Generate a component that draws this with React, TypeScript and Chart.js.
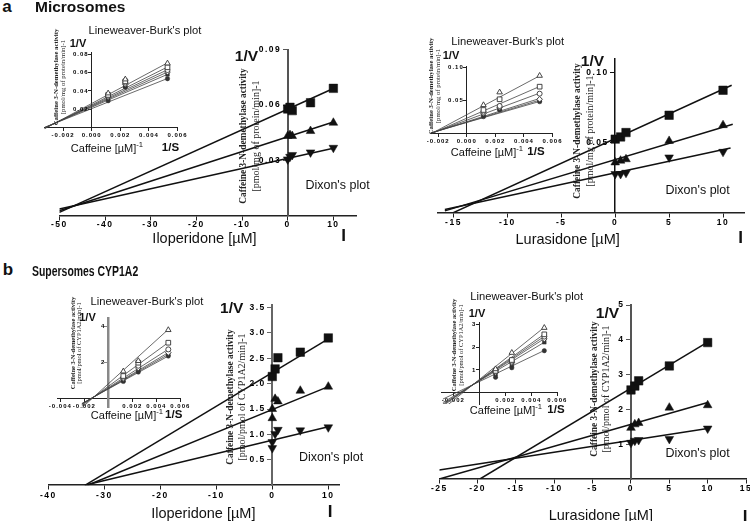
import React, { useEffect, useRef } from 'react';
import { Chart, registerables } from 'chart.js';
Chart.register(...registerables);

// ================= DATA =================
// ---- Panel a (Microsomes) – Iloperidone, Dixon plot ----
const aIloConc = [0, 0.5, 1, 5, 10];
const aIloSquare = [0.0579, 0.0588, 0.057, 0.0613, 0.0691];
const aIloTriangle = [0.0432, 0.0437, 0.0432, 0.0459, 0.0504];
const aIloInverted = [0.0305, 0.0319, 0.0329, 0.0343, 0.0368];
const aIloFitX = [-50, 10];
const aIloFitSquare = [0.0017, 0.069];
const aIloFitTriangle = [0.0026, 0.0508];
const aIloFitInverted = [0.0035, 0.0366];
const aIloXTicks = [-50, -40, -30, -20, -10, 0, 10];
const aIloYTicks = [0.03, 0.06, 0.09];
// inset: Lineweaver-Burk
const aIloLbX = [0.00115, 0.00235, 0.0053];
const aIloLbY = [
  [0.0374, 0.0526, 0.07],
  [0.0356, 0.0504, 0.0657],
  [0.0346, 0.049, 0.0627],
  [0.0331, 0.0472, 0.0605],
  [0.0317, 0.0457, 0.058],
  [0.0293, 0.044, 0.0533],
];
const aIloLbFitX = [-0.0033, 0.0053];
const aIloLbFitY = [
  [-0.0012, 0.0705],
  [-0.0008, 0.066],
  [-0.0005, 0.063],
  [-0.0002, 0.0605],
  [0.0, 0.058],
  [0.0003, 0.0535],
];
const aLbXTicks = [-0.002, 0, 0.002, 0.004, 0.006];
const aIloLbYTicks = [0.02, 0.04, 0.06, 0.08];

// ---- Panel a (Microsomes) – Lurasidone, Dixon plot ----
const aLurConc = [0, 0.5, 1, 5, 10];
const aLurSquare = [0.0524, 0.054, 0.0571, 0.0695, 0.0874];
const aLurTriangle = [0.0357, 0.037, 0.038, 0.0511, 0.0624];
const aLurInverted = [0.0274, 0.0274, 0.0283, 0.0393, 0.0433];
const aLurFitSquareX = [-15.5, 10.8];
const aLurFitSquare = [-0.002, 0.091];
const aLurFitTriangleX = [-15.8, 10.9];
const aLurFitTriangle = [0.001, 0.063];
const aLurFitInvertedX = [-15.8, 10.7];
const aLurFitInverted = [0.002, 0.046];
const aLurXTicks = [-15, -10, -5, 0, 5, 10];
const aLurYTicks = [0.05, 0.1];
// inset
const aLurLbX = [0.00117, 0.0023, 0.0051];
const aLurLbY = [
  [0.0432, 0.0623, 0.0872],
  [0.0357, 0.0518, 0.0707],
  [0.0332, 0.0417, 0.0602],
  [0.0307, 0.0397, 0.0518],
  [0.0282, 0.0368, 0.0503],
  [0.0257, 0.036, 0.0482],
];
const aLurLbFitX = [-0.0025, 0.0051];
const aLurLbFitY = [
  [0.0, 0.087],
  [0.0, 0.071],
  [0.0005, 0.061],
  [0.001, 0.053],
  [0.001, 0.0505],
  [0.0015, 0.0485],
];
const aLurLbYTicks = [0.05, 0.1];

// ---- Panel b (Supersomes CYP1A2) – Iloperidone ----
const bIloSquareX = [0, 0.5, 1, 5, 10];
const bIloSquare = [2.14, 2.29, 2.51, 2.62, 2.9];
const bIloTriangleX = [0, 0, 0.5, 1, 5, 10];
const bIloTriangle = [1.32, 1.5, 1.7, 1.65, 1.86, 1.94];
const bIloInvertedX = [0, 0, 0.5, 1, 5, 10];
const bIloInverted = [0.73, 0.85, 1.01, 1.09, 1.08, 1.14];
const bIloFitSquareX = [-33.4, 10];
const bIloFitSquare = [0, 2.88];
const bIloFitTriangleX = [-33, 10];
const bIloFitTriangle = [0, 1.94];
const bIloFitInvertedX = [-33.5, 10];
const bIloFitInverted = [0, 1.15];
const bIloXTicks = [-40, -30, -20, -10, 0, 10];
const bIloYTicks = [0.5, 1, 1.5, 2, 2.5, 3, 3.5];
// inset
const bLbX = [0.00125, 0.0025, 0.005];
const bIloLbY = [
  [1.52, 2.1, 3.82],
  [1.26, 2.0, 3.11],
  [1.17, 1.83, 2.74],
  [1.11, 1.71, 2.56],
  [1.02, 1.59, 2.47],
  [0.96, 1.48, 2.37],
];
const bIloLbFitX = [-0.0022, 0.005];
const bIloLbFitY = [
  [-0.505, 3.85],
  [-0.387, 3.12],
  [-0.327, 2.75],
  [-0.297, 2.56],
  [-0.281, 2.46],
  [-0.266, 2.37],
];
const bIloLbXTicks = [-0.004, -0.002, 0.002, 0.004, 0.006];
const bIloLbYTicks = [2, 4];

// ---- Panel b (Supersomes CYP1A2) – Lurasidone ----
const bLurConc = [0, 0.5, 1, 5, 10];
const bLurSquare = [2.56, 2.67, 2.82, 3.25, 3.92];
const bLurTriangle = [1.47, 1.57, 1.61, 2.05, 2.12];
const bLurInverted = [1.04, 1.1, 1.12, 1.15, 1.45];
const bLurFitSquareX = [-19.7, 10.1];
const bLurFitSquare = [0, 3.95];
const bLurFitTriangleX = [-25, 10];
const bLurFitTriangle = [0, 2.2];
const bLurFitInvertedX = [-25, 10];
const bLurFitInverted = [0.26, 1.45];
const bLurXTicks = [-25, -20, -15, -10, -5, 0, 5, 10, 15];
const bLurYTicks = [1, 2, 3, 4, 5];
// inset
const bLurLbY = [
  [1.04, 1.76, 2.86],
  [0.96, 1.44, 2.57],
  [0.93, 1.37, 2.47],
  [0.88, 1.32, 2.37],
  [0.82, 1.22, 2.22],
  [0.68, 1.1, 1.85],
];
const bLurLbFitX = [-0.0028, 0.005];
const bLurLbFitY = [
  [-0.708, 2.88],
  [-0.582, 2.58],
  [-0.54, 2.48],
  [-0.499, 2.38],
  [-0.432, 2.22],
  [-0.282, 1.86],
];
const bLurLbXTicks = [-0.002, 0.002, 0.004, 0.006];
const bLurLbYTicks = [1, 2, 3];

// ================= STYLE / HELPERS =================
const SANS = '"Liberation Sans", Arial, Helvetica, sans-serif';
const SERIF = '"Liberation Serif", "Times New Roman", serif';

const insetMarks = [
  { style: 'triangle', r: 3.2, fill: false },
  { style: 'rect', r: 3.3, fill: false },
  { style: 'circle', r: 2.5, fill: false },
  { style: 'rectRot', r: 2.8, fill: false },
  { style: 'rect', r: 2.6, fill: true },
  { style: 'circle', r: 2.2, fill: true },
];

function pts(xs: number[], ys: number[]) {
  return xs.map((x, i) => ({ x, y: ys[i] }));
}
function fitLine(xs: number[], ys: number[], color: string, width: number) {
  return {
    data: pts(xs, ys), showLine: true, borderColor: color, borderWidth: width,
    pointRadius: 0, pointHoverRadius: 0, fill: false, order: 2,
  };
}
function marks(xs: number[], ys: number[], style: string, r: number, filled: boolean, color: string, rot = 0) {
  return {
    data: pts(xs, ys), showLine: false, pointStyle: style, pointRadius: r, pointHoverRadius: r,
    pointRotation: rot, pointBackgroundColor: filled ? color : '#ffffff', pointBorderColor: color,
    pointBorderWidth: filled ? 0.5 : 0.9, order: 1,
  };
}
function mainSets(
  sqX: number[], sq: number[], trX: number[], tr: number[], ivX: number[], iv: number[],
  fsX: number[], fs: number[], ftX: number[], ft: number[], fiX: number[], fi: number[],
) {
  const c = '#111';
  return [
    fitLine(fsX, fs, c, 1.5), fitLine(ftX, ft, c, 1.5), fitLine(fiX, fi, c, 1.5),
    marks(sqX, sq, 'rect', 6, true, c), marks(trX, tr, 'triangle', 5, true, c),
    marks(ivX, iv, 'triangle', 5, true, c, 180),
  ];
}
function insetSets(x: number[], ys: number[][], fx: number[], fys: number[][]) {
  const out: any[] = [];
  fys.forEach((fy) => out.push(fitLine(fx, fy, '#444', 0.8)));
  ys.forEach((y, i) => {
    const m = insetMarks[i];
    out.push(marks(x, y, m.style, m.r, m.fill, '#333'));
  });
  return out;
}

type AxisSpec = {
  min: number; max: number; ticks: number[]; dec: number;
  color: string; width: number; pad: number;
};
type PlotProps = {
  area: number[]; // l, t, r, b (page px)
  pad: number[]; // l, t, r, b
  x: AxisSpec; y: AxisSpec;
  datasets: any[];
  font: number; spacing: number; tick: number;
};

function Plot(p: PlotProps) {
  const ref = useRef<HTMLCanvasElement>(null);
  const [l, t, r, b] = p.area;
  const [pl, pt, pr, pb] = p.pad;
  const left = Math.floor(l - pl);
  const top = Math.floor(t - pt);
  const width = Math.ceil(r + pr) - left;
  const height = Math.ceil(b + pb) - top;
  useEffect(() => {
    const axis = (s: AxisSpec, cross: any, showLabels: boolean) => ({
      type: 'linear', min: s.min, max: s.max, position: cross,
      afterBuildTicks: (sc: any) => { sc.ticks = s.ticks.map((v) => ({ value: v })); },
      ticks: {
        display: showLabels,
        autoSkip: false, maxRotation: 0, minRotation: 0, padding: s.pad, color: '#000',
        font: { family: SANS, size: p.font, weight: 'bold' },
        callback: (v: any) => Number(v).toFixed(s.dec),
      },
      grid: { drawOnChartArea: false, drawTicks: true, tickLength: p.tick, color: s.color, tickWidth: 1 },
      border: { display: true, color: s.color, width: s.width },
    });
    const setLs = (c: any) => { c.ctx.letterSpacing = p.spacing + 'px'; };
    const yLabels = {
      id: 'yLabels',
      afterDraw: (c: any) => {
        const ctx = c.ctx;
        const xs = c.scales.x; const ys = c.scales.y;
        ctx.save();
        ctx.letterSpacing = p.spacing + 'px';
        ctx.font = `bold ${p.font}px ${SANS}`;
        ctx.fillStyle = '#000';
        ctx.textAlign = 'right';
        ctx.textBaseline = 'middle';
        const x0 = xs.getPixelForValue(0) - p.tick - p.y.pad + p.spacing;
        p.y.ticks.forEach((v) => ctx.fillText(v.toFixed(p.y.dec), x0, ys.getPixelForValue(v)));
        ctx.restore();
      },
    };
    const chart = new Chart(ref.current as HTMLCanvasElement, {
      type: 'scatter',
      data: { datasets: p.datasets },
      options: {
        responsive: false, maintainAspectRatio: false, animation: false, events: [],
        layout: { padding: { left: l - left, top: t - top, right: left + width - r, bottom: top + height - b } },
        plugins: { legend: { display: false }, tooltip: { enabled: false }, title: { display: false } },
        scales: { x: axis(p.x, { y: 0 }, true), y: axis(p.y, { x: 0 }, false) },
      } as any,
      plugins: [{ id: 'ls', beforeLayout: setLs, beforeDraw: setLs }, yLabels],
    });
    return () => chart.destroy();
  }, []);
  return (
    <canvas ref={ref} width={width} height={height}
      style={{ position: 'absolute', left, top, width, height }} />
  );
}

function Txt(props: { x: number; y: number; size: number; bold?: boolean; left?: boolean; sx?: number; children: any }) {
  const base = props.left ? 'translate(0,-50%)' : 'translate(-50%,-50%)';
  return (
    <div style={{
      position: 'absolute', left: props.x, top: props.y, fontFamily: SANS, fontSize: props.size,
      fontWeight: props.bold ? 'bold' : 'normal', lineHeight: 1, whiteSpace: 'nowrap', color: '#111',
      transformOrigin: 'left center',
      transform: base + (props.sx ? ` scaleX(${props.sx})` : ''),
    }}>{props.children}</div>
  );
}
function YTitle(props: { x: number; y: number; f1: number; f2: number; lh: number; unit: string }) {
  return (
    <div style={{
      position: 'absolute', left: props.x, top: props.y, fontFamily: SERIF, whiteSpace: 'nowrap',
      textAlign: 'center', lineHeight: props.lh + 'px', color: '#222',
      transform: 'translate(-50%,-50%) rotate(-90deg)',
    }}>
      <div style={{ fontWeight: 'bold', fontSize: props.f1 }}>Caffeine 3-N-demethylase activity</div>
      <div style={{ fontSize: props.f2 }}>{props.unit}</div>
    </div>
  );
}
function Caff(props: { x: number; y: number; size: number }) {
  return (
    <Txt x={props.x} y={props.y} size={props.size}>
      Caffeine [µM]<sup style={{ fontSize: '0.7em', verticalAlign: 'super', lineHeight: 0 }}>-1</sup>
    </Txt>
  );
}

const ax = (min: number, max: number, ticks: number[], dec: number, color = '#222', width = 1.5, pad = 1): AxisSpec =>
  ({ min, max, ticks, dec, color, width, pad });

export default function App() {
  const MAIN = { font: 8.5, spacing: 1.5, tick: 4 };
  const INS = { font: 6, spacing: 1, tick: 3 };
  const U1 = '[pmol/mg of protein/min]-1';
  const U2 = '[pmol/pmol of CYP1A2/min]-1';
  return (
    <div style={{ position: 'fixed', left: 0, top: 0, width: 750, height: 521, overflow: 'hidden', background: '#fff' }}>
      {/* a – Iloperidone main */}
      <Plot {...MAIN} area={[59.35, 49.9, 356.2, 215.5]} pad={[22, 12, 12, 20]}
        x={ax(-50, 15, aIloXTicks, 0, '#222', 1.5, 0)} y={ax(0, 0.09, aIloYTicks, 2, '#555', 2, 4)}
        datasets={mainSets(aIloConc, aIloSquare, aIloConc, aIloTriangle, aIloConc, aIloInverted,
          aIloFitX, aIloFitSquare, aIloFitX, aIloFitTriangle, aIloFitX, aIloFitInverted)} />
      {/* a – Iloperidone inset */}
      <Plot {...INS} area={[44.5, 52.3, 177.5, 129.5]} pad={[14, 8, 12, 14]}
        x={ax(-0.0033, 0.006, aLbXTicks, 3, '#222', 1)} y={ax(-0.002, 0.082, aIloLbYTicks, 2, '#222', 1, 1)}
        datasets={insetSets(aIloLbX, aIloLbY, aIloLbFitX, aIloLbFitY)} />
      {/* a – Lurasidone main */}
      <Plot {...MAIN} area={[437.3, 58.7, 744.6, 212.3]} pad={[16, 12, 12, 20]}
        x={ax(-16.5, 12, aLurXTicks, 0)} y={ax(0, 0.11, aLurYTicks, 2, '#111', 1.5, 4)}
        datasets={mainSets(aLurConc, aLurSquare, aLurConc, aLurTriangle, aLurConc, aLurInverted,
          aLurFitSquareX, aLurFitSquare, aLurFitTriangleX, aLurFitTriangle, aLurFitInvertedX, aLurFitInverted)} />
      {/* a – Lurasidone inset */}
      <Plot {...INS} area={[431, 66.5, 552.5, 135.1]} pad={[14, 8, 12, 14]}
        x={ax(-0.0025, 0.006, aLbXTicks, 3, '#222', 1)} y={ax(-0.002, 0.101, aLurLbYTicks, 2, '#222', 1, 1)}
        datasets={insetSets(aLurLbX, aLurLbY, aLurLbFitX, aLurLbFitY)} />
      {/* b – Iloperidone main */}
      <Plot {...MAIN} area={[48.3, 304.9, 339.5, 485.2]} pad={[16, 12, 12, 20]}
        x={ax(-40, 12, bIloXTicks, 0)} y={ax(0, 3.55, bIloYTicks, 1, '#666', 2, 4)}
        datasets={mainSets(bIloSquareX, bIloSquare, bIloTriangleX, bIloTriangle, bIloInvertedX, bIloInverted,
          bIloFitSquareX, bIloFitSquare, bIloFitTriangleX, bIloFitTriangle, bIloFitInvertedX, bIloFitInverted)} />
      {/* b – Iloperidone inset */}
      <Plot {...INS} area={[57.9, 318.6, 180.3, 407.7]} pad={[14, 8, 12, 14]}
        x={ax(-0.0042, 0.006, bIloLbXTicks, 3, '#222', 1)} y={ax(-0.5, 4.45, bIloLbYTicks, 0, '#888', 2.5, 1)}
        datasets={insetSets(bLbX, bIloLbY, bIloLbFitX, bIloLbFitY)} />
      {/* b – Lurasidone main */}
      <Plot {...MAIN} area={[439.3, 305, 746, 479]} pad={[16, 12, 12, 20]}
        x={ax(-25, 15, bLurXTicks, 0)} y={ax(0, 5, bLurYTicks, 0, '#555', 2, 4)}
        datasets={mainSets(bLurConc, bLurSquare, bLurConc, bLurTriangle, bLurConc, bLurInverted,
          bLurFitSquareX, bLurFitSquare, bLurFitTriangleX, bLurFitTriangle, bLurFitInvertedX, bLurFitInverted)} />
      {/* b – Lurasidone inset */}
      <Plot {...INS} area={[441.6, 322.3, 557.3, 404.05]} pad={[14, 8, 12, 14]}
        x={ax(-0.0029, 0.006, bLurLbXTicks, 3, '#222', 1)} y={ax(-0.5, 3.1, bLurLbYTicks, 0, '#222', 1, 1)}
        datasets={insetSets(bLbX, bLurLbY, bLurLbFitX, bLurLbFitY)} />

      {/* ---- texts panel a ---- */}
      <Txt x={7} y={6} size={17} bold>a</Txt>
      <Txt x={35} y={7} size={15.5} bold left>Microsomes</Txt>
      <Txt x={246.5} y={56} size={15.5} bold>1/V</Txt>
      <YTitle x={248.5} y={136} f1={9.4} f2={10} lh={12.5} unit={U1} />
      <Txt x={337.5} y={185} size={12.5}>Dixon's plot</Txt>
      <Txt x={204.5} y={238} size={14.5}>Iloperidone [µM]</Txt>
      <Txt x={343.7} y={234.5} size={17} bold>I</Txt>
      <Txt x={145} y={30.7} size={11.2}>Lineweaver-Burk's plot</Txt>
      <Txt x={78} y={43} size={11} bold>1/V</Txt>
      <YTitle x={59.5} y={77} f1={6.7} f2={6.7} lh={6.8} unit={U1} />
      <Caff x={107} y={148.3} size={11} />
      <Txt x={170.5} y={148.3} size={11.5} bold>1/S</Txt>

      <Txt x={592.5} y={61} size={15.5} bold>1/V</Txt>
      <YTitle x={582.5} y={131} f1={9.4} f2={10} lh={12.5} unit={U1} />
      <Txt x={697.7} y={190} size={12.5}>Dixon's plot</Txt>
      <Txt x={567.7} y={239} size={14.5}>Lurasidone [µM]</Txt>
      <Txt x={740.7} y={237.3} size={17} bold>I</Txt>
      <Txt x={507.7} y={41.7} size={11.2}>Lineweaver-Burk's plot</Txt>
      <Txt x={451} y={55} size={11} bold>1/V</Txt>
      <YTitle x={435} y={86} f1={6.7} f2={6.7} lh={6.8} unit={U1} />
      <Caff x={487} y={151.7} size={11} />
      <Txt x={536} y={151.7} size={11.5} bold>1/S</Txt>

      {/* ---- texts panel b ---- */}
      <Txt x={8} y={269} size={17} bold>b</Txt>
      <Txt x={31.7} y={270.5} size={14.5} bold left sx={0.72}>Supersomes CYP1A2</Txt>
      <Txt x={231.7} y={307.5} size={15.5} bold>1/V</Txt>
      <YTitle x={236.3} y={396.7} f1={9.4} f2={10} lh={11} unit={U2} />
      <Txt x={331} y={456.7} size={12.5}>Dixon's plot</Txt>
      <Txt x={203.3} y={513.3} size={14.5}>Iloperidone [µM]</Txt>
      <Txt x={330} y={510.7} size={17} bold>I</Txt>
      <Txt x={147} y={302} size={11.2}>Lineweaver-Burk's plot</Txt>
      <Txt x={87.5} y={317} size={11} bold>1/V</Txt>
      <YTitle x={75.8} y={343} f1={6.4} f2={6.4} lh={6.4} unit={U2} />
      <Caff x={127} y={415} size={11} />
      <Txt x={173.7} y={415} size={11.5} bold>1/S</Txt>

      <Txt x={607.5} y={312.5} size={15.5} bold>1/V</Txt>
      <YTitle x={600} y={389} f1={9.4} f2={10} lh={11} unit={U2} />
      <Txt x={697.5} y={453.3} size={12.5}>Dixon's plot</Txt>
      <Txt x={600.8} y={515.3} size={14.5}>Lurasidone [µM]</Txt>
      <Txt x={745} y={516} size={17} bold>I</Txt>
      <Txt x={526.7} y={297.3} size={11.2}>Lineweaver-Burk's plot</Txt>
      <Txt x={477} y={313} size={11} bold>1/V</Txt>
      <YTitle x={458} y={345} f1={6.4} f2={6.4} lh={6.8} unit={U2} />
      <Caff x={506} y={410} size={11} />
      <Txt x={556} y={410} size={11.5} bold>1/S</Txt>
    </div>
  );
}
